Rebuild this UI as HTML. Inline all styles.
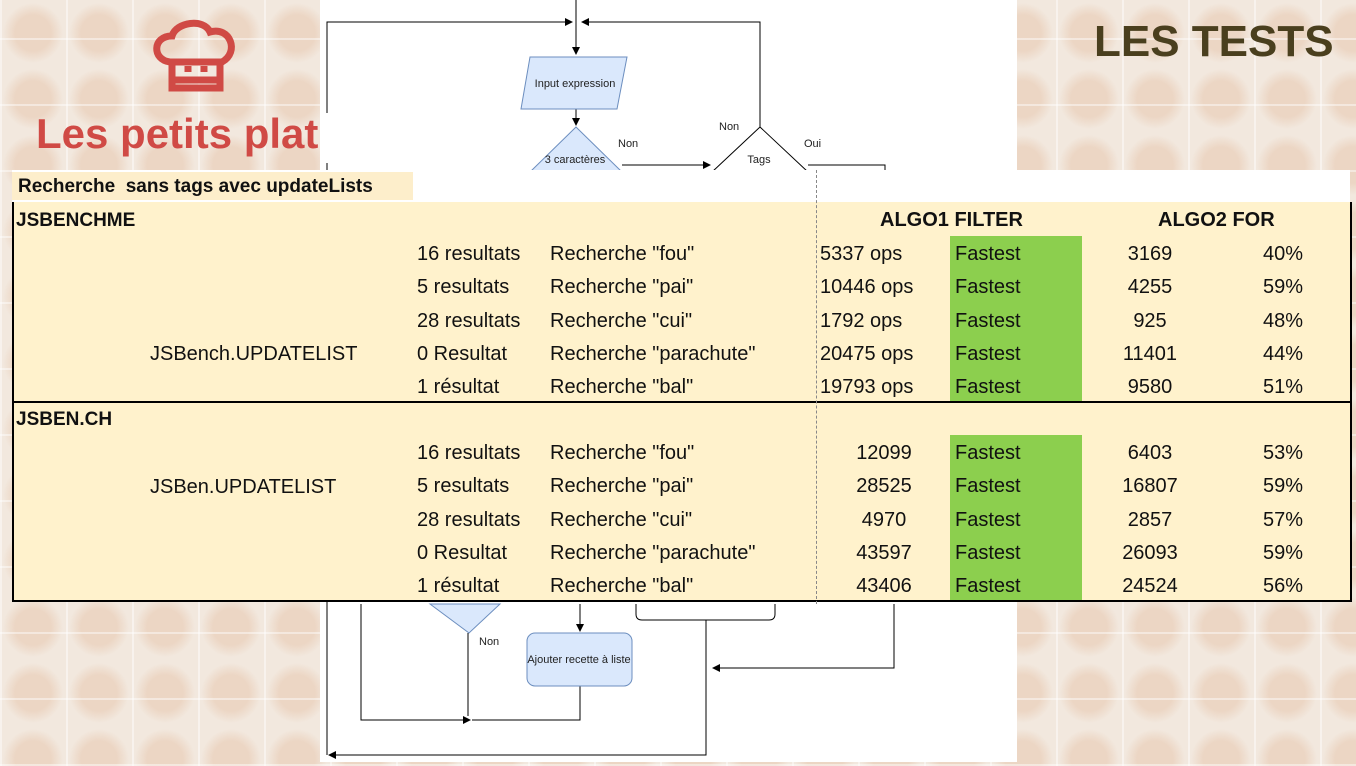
<!DOCTYPE html>
<html><head><meta charset="utf-8"><style>
body{margin:0;width:1356px;height:766px;overflow:hidden;position:relative;font-family:"Liberation Sans",sans-serif;
background:#eee2d6;}
.bg{position:absolute;inset:0;background:
repeating-linear-gradient(90deg,rgba(255,255,255,.45) 0 2px,transparent 2px 66px),
repeating-linear-gradient(0deg,rgba(255,255,255,.45) 0 2px,transparent 2px 66px),
radial-gradient(circle at 33px 33px,#ecd6c4 0 18px,transparent 30px) 0 0/66px 66px,#f2e8de;}
.t{position:absolute;white-space:nowrap;font-size:20px;color:#111;line-height:1;}
.b{font-weight:bold}
</style></head><body>
<div class="bg"></div>
<div style="position:absolute;left:320px;top:0;width:697px;height:762px;background:#fff"></div>
<svg style="position:absolute;left:0;top:0" width="1356" height="766">
<defs><marker id="a" markerWidth="8" markerHeight="8" refX="7" refY="4" orient="auto" markerUnits="userSpaceOnUse"><path d="M0,0L8,4L0,8z" fill="#000"/></marker></defs>
<g stroke="#000" stroke-width="1" fill="none">
<path d="M576,0V54" marker-end="url(#a)"/>
<path d="M327,755V22H572" marker-end="url(#a)"/>
<path d="M760,127V22H582" marker-end="url(#a)"/>
<path d="M576,109V125" marker-end="url(#a)"/>
<path d="M622,165H710" marker-end="url(#a)"/>
<path d="M808,165H885V172"/>
<path d="M361,604V720H470" marker-end="url(#a)"/>
<path d="M580,686V720H472"/>
<path d="M468,633V716"/>
<path d="M580,604V631" marker-end="url(#a)"/>
<path d="M706,620V755H329" marker-end="url(#a)"/>
<path d="M894,604V668H713" marker-end="url(#a)"/>
</g>
<path d="M530,57H627L617,109H521Z" fill="#dae8fc" stroke="#6c8ebf"/>
<path d="M576,127L622,172H530Z" fill="#dae8fc" stroke="#6c8ebf"/>
<path d="M760,127L808,172H712Z" fill="#fff" stroke="#000"/>
<path d="M430,604L500,604L469,633Z" fill="#dae8fc" stroke="#6c8ebf"/>
<rect x="527" y="633" width="105" height="53" rx="8" fill="#dae8fc" stroke="#6c8ebf"/>
<path d="M636,604V614Q636,620 642,620H769Q775,620 775,614V604" fill="none" stroke="#000"/>
<g font-family="Liberation Sans" font-size="11" fill="#222">
<text x="575" y="87" text-anchor="middle">Input expression</text>
<text x="575" y="163" text-anchor="middle">3 caractères</text>
<text x="759" y="163" text-anchor="middle">Tags</text>
<text x="618" y="147">Non</text><text x="719" y="130">Non</text><text x="804" y="147">Oui</text>
<text x="479" y="645">Non</text>
<text x="579" y="663" text-anchor="middle">Ajouter recette à liste</text>
</g>
<g stroke="#d04a45" stroke-width="7" fill="none">
<path d="M170,62C152,60 152,36 172,36C176,22 204,18 210,32C230,26 240,52 222,62Z"/>
<path d="M172,64V88H220V64M172,80H220M188,66V72M204,66V72"/>
</g>
</svg>
<div class="t b" style="left:36px;top:113px;font-size:42px;color:#d04a45">Les petits plat</div>
<div class="t b" style="left:1094px;top:20px;font-size:44px;color:#4a3f1e">LES TESTS</div>
<div style="position:absolute;left:320px;top:113px;width:10px;height:50px;background:#fff"></div>

<div style="position:absolute;left:12px;top:170px;width:1338px;height:32px;background:#fff;border-bottom:2px solid #000"></div>
<div style="position:absolute;left:12px;top:172px;width:401px;height:28px;background:#fdeecb"></div>
<div class="t b" style="left:18px;top:177px;font-size:19px">Recherche&nbsp; sans tags avec updateLists</div>
<div style="position:absolute;left:12px;top:202px;width:1336px;height:398px;background:#fff2cc;border:2px solid #000;border-top:none"></div>
<div style="position:absolute;left:12px;top:401px;width:1338px;height:2px;background:#000"></div>
<div style="position:absolute;left:950px;top:236px;width:132px;height:165px;background:#8ccf4e"></div>
<div style="position:absolute;left:950px;top:435px;width:132px;height:165px;background:#8ccf4e"></div>
<div style="position:absolute;left:816px;top:170px;height:434px;border-left:1px dashed #888"></div>
<div class="t b" style="left:16px;top:211px;font-size:19px">JSBENCHME</div>
<div class="t b" style="left:16px;top:410px;font-size:19px">JSBEN.CH</div>
<div class="t b" style="left:880px;top:210px">ALGO1 FILTER</div>
<div class="t b" style="left:1158px;top:210px">ALGO2 FOR</div>
<div class="t" style="left:150px;top:344px">JSBench.UPDATELIST</div>
<div class="t" style="left:150px;top:477px">JSBen.UPDATELIST</div>
<div id="rows"></div>
<script>
var r=[["16 resultats",'Recherche "fou"'],["5 resultats",'Recherche "pai"'],["28 resultats",'Recherche "cui"'],["0 Resultat",'Recherche "parachute"'],["1 résultat",'Recherche "bal"']];
var a=[["5337 ops","3169","40%"],["10446 ops","4255","59%"],["1792 ops","925","48%"],["20475 ops","11401","44%"],["19793 ops","9580","51%"]];
var b=[["12099","6403","53%"],["28525","16807","59%"],["4970","2857","57%"],["43597","26093","59%"],["43406","24524","56%"]];
var h="";
function row(y,i,d,left){
h+='<div class="t" style="left:417px;top:'+y+'px">'+r[i][0]+'</div>';
h+='<div class="t" style="left:550px;top:'+y+'px">'+r[i][1]+'</div>';
h+=left?'<div class="t" style="left:820px;top:'+y+'px">'+d[0]+'</div>':'<div class="t" style="left:824px;top:'+y+'px;width:120px;text-align:center">'+d[0]+'</div>';
h+='<div class="t" style="left:955px;top:'+y+'px">Fastest</div>';
h+='<div class="t" style="left:1090px;top:'+y+'px;width:120px;text-align:center">'+d[1]+'</div>';
h+='<div class="t" style="left:1200px;top:'+y+'px;width:103px;text-align:right">'+d[2]+'</div>';}
for(var i=0;i<5;i++){row(244+i*33.3,i,a[i],1);row(443+i*33.3,i,b[i],0);}
document.getElementById("rows").outerHTML=h;
</script>
</body></html>
